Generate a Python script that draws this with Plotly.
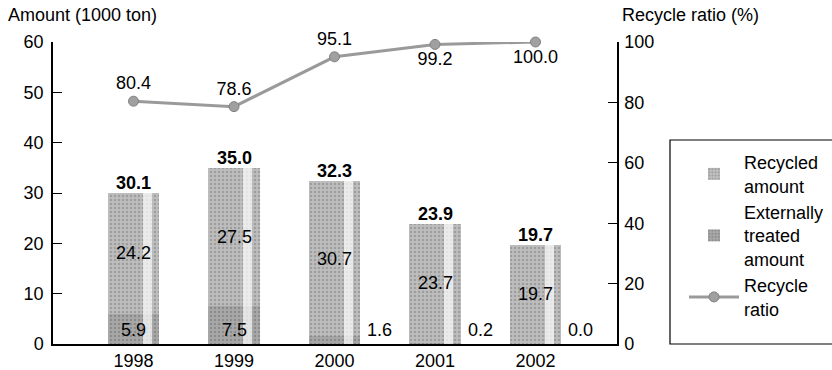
import plotly.graph_objects as go

# Data
years = ["1998", "1999", "2000", "2001", "2002"]
recycled = [24.2, 27.5, 30.7, 23.7, 19.7]
external = [5.9, 7.5, 1.6, 0.2, 0.0]
totals = [30.1, 35.0, 32.3, 23.9, 19.7]
ratio = [80.4, 78.6, 95.1, 99.2, 100.0]

FONT = "Arial, 'Liberation Sans', sans-serif"
FS = 18
xs = list(range(len(years)))
BAR_W = 0.51

fig = go.Figure()

# Externally treated amount (bottom segment)
fig.add_trace(go.Bar(
    x=xs, y=external, base=[0] * len(xs), width=BAR_W,
    name="Externally<br>treated<br>amount",
    marker=dict(color="#9c9c9c", line=dict(width=0),
                pattern=dict(shape=".", fgcolor="#6e6e6e", bgcolor="#a8a8a8",
                             size=4, solidity=0.3)),
    hoverinfo="skip", legendrank=2,
))
# Recycled amount (upper segment)
fig.add_trace(go.Bar(
    x=xs, y=recycled, base=external, width=BAR_W,
    name="Recycled<br>amount",
    marker=dict(color="#b4b4b4", line=dict(width=0),
                pattern=dict(shape=".", fgcolor="#7c7c7c", bgcolor="#bdbdbd",
                             size=4, solidity=0.3)),
    hoverinfo="skip", legendrank=1,
))
# light sheen stripe on each column
fig.add_trace(go.Bar(
    x=xs, y=totals, width=0.09, offset=0.09,
    marker=dict(color="rgba(255,255,255,0.7)", line=dict(width=0)),
    showlegend=False, hoverinfo="skip",
))

# Recycle ratio line on the right axis
fig.add_trace(go.Scatter(
    x=xs, y=ratio, yaxis="y2", name="Recycle<br>ratio",
    mode="lines+markers+text",
    line=dict(color="#9a9a9a", width=3),
    marker=dict(color="#a0a0a0", size=10, symbol="circle",
                line=dict(color="#808080", width=1)),
    text=[f"{v:.1f}" for v in ratio],
    textposition=["top center", "top center", "top center",
                  "bottom center", "bottom center"],
    textfont=dict(family=FONT, size=FS, color="black"),
    cliponaxis=False, legendrank=3,
))

annotations = []
for i in xs:
    # column total, bold, above the bar
    annotations.append(dict(x=i, y=totals[i], xref="x", yref="y",
                            text=f"<b>{totals[i]:.1f}</b>", showarrow=False,
                            yanchor="bottom", yshift=-2,
                            font=dict(family=FONT, size=FS, color="black")))
    # recycled amount, centred in its segment
    annotations.append(dict(x=i, y=external[i] + recycled[i] / 2, xref="x", yref="y",
                            text=f"{recycled[i]:.1f}", showarrow=False,
                            font=dict(family=FONT, size=FS, color="black")))
    # externally treated amount: inside when it fits, otherwise beside the bar
    inside = external[i] >= 3
    annotations.append(dict(x=i if inside else i + 0.45, y=0, xref="x", yref="y",
                            text=f"{external[i]:.1f}", showarrow=False,
                            yanchor="bottom", yshift=2,
                            font=dict(family=FONT, size=FS, color="black")))

annotations.append(dict(x=6, y=15, xref="paper", yref="paper", text="Amount (1000 ton)",
                        showarrow=False, xanchor="left", yanchor="middle",
                        font=dict(family=FONT, size=FS, color="black")))
annotations.append(dict(x=620, y=15, xref="paper", yref="paper", text="Recycle ratio (%)",
                        showarrow=False, xanchor="left", yanchor="middle",
                        font=dict(family=FONT, size=FS, color="black")))

W, H = 832, 370
L, R, T, B = 53, 215, 42, 26
pw, ph = W - L - R, H - T - B


def px_x(p):
    return (p - L) / pw


def px_y(p):
    return (H - B - p) / ph


for a in annotations:
    if a["xref"] == "paper":
        a["x"] = px_x(a["x"])
        a["y"] = px_y(a["y"])

fig.update_layout(
    width=W, height=H,
    margin=dict(l=L, r=R, t=T, b=B, autoexpand=False),
    paper_bgcolor="white", plot_bgcolor="white",
    barmode="overlay", bargap=0,
    font=dict(family=FONT, size=FS, color="black"),
    xaxis=dict(range=[-0.801, 4.811], tickvals=xs, ticktext=years,
               showline=True, linecolor="black", linewidth=1.5,
               ticks="", showgrid=False, zeroline=False, fixedrange=True),
    yaxis=dict(range=[0, 60], dtick=10, ticks="inside", ticklen=9, tickwidth=1.2,
               tickcolor="black", showline=True, linecolor="black", linewidth=1.5,
               showgrid=False, zeroline=False, ticklabelstandoff=4),
    yaxis2=dict(range=[0, 100], dtick=20, overlaying="y", side="right",
                ticks="inside", ticklen=9, tickwidth=1.2, tickcolor="black",
                showline=True, linecolor="black", linewidth=1.5,
                showgrid=False, zeroline=False, ticklabelstandoff=2),
    legend=dict(x=px_x(684), y=px_y(144), xanchor="left", yanchor="top",
                bgcolor="rgba(0,0,0,0)", borderwidth=0,
                font=dict(family=FONT, size=FS), itemwidth=50,
                tracegroupgap=4, traceorder="normal"),
    annotations=annotations,
    shapes=[dict(type="rect", xref="paper", yref="paper",
                 x0=px_x(670), x1=px_x(900), y0=px_y(344), y1=px_y(140),
                 line=dict(color="black", width=1.2))],
)

fig.write_html("out.html")
